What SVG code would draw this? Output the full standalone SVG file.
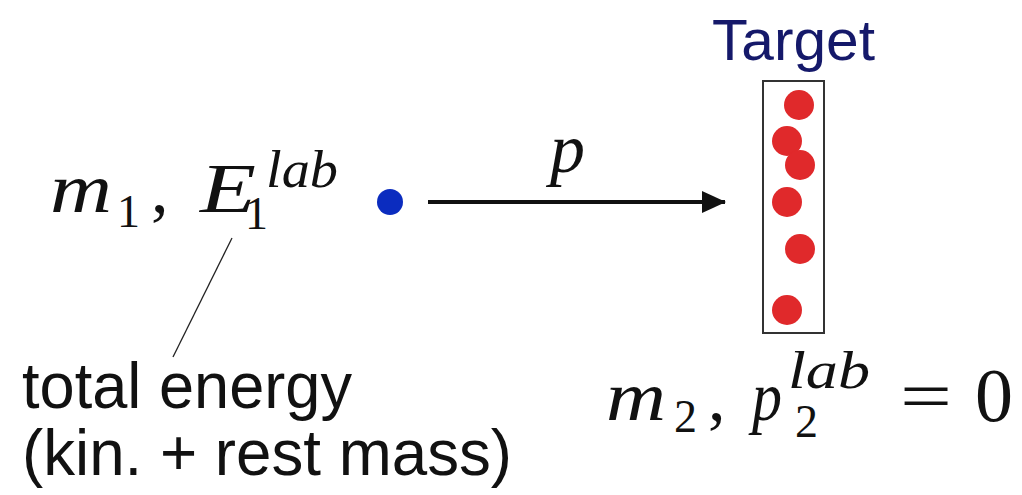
<svg xmlns="http://www.w3.org/2000/svg" width="1022" height="495" viewBox="0 0 1022 495">
  <style>
    .mi { font-family: "Liberation Serif", "Times New Roman", serif; font-style: italic; fill: #111; }
    .rm { font-family: "Liberation Serif", "Times New Roman", serif; fill: #111; }
    .sans { font-family: "Liberation Sans", Arial, sans-serif; fill: #111; }
    .red { fill: #e0292b; }
  </style>
  <defs>
    <marker id="arrowhead" markerWidth="24" markerHeight="22" refX="23" refY="11" orient="auto" markerUnits="userSpaceOnUse">
      <path d="M0,0 L24,11 L0,22 Z" fill="#111"/>
    </marker>
  </defs>
  <rect width="1022" height="495" fill="#ffffff"/>

  <g id="projectile">
    <circle cx="390" cy="202" r="13" fill="#0b2cbf"/>
  </g>

  <g id="projectile-label">
    <text class="mi" x="50" y="212" font-size="70" textLength="62" lengthAdjust="spacingAndGlyphs">m</text>
    <text class="rm" x="117" y="227" font-size="46">1</text>
    <text class="rm" x="151" y="212" font-size="70">,</text>
    <text class="mi" x="200" y="212" font-size="70" textLength="56" lengthAdjust="spacingAndGlyphs">E</text>
    <text class="rm" x="245" y="229" font-size="46">1</text>
    <text class="mi" x="266" y="187" font-size="52" textLength="72" lengthAdjust="spacingAndGlyphs">lab</text>
  </g>

  <g id="energy-note">
    <text class="sans" x="22" y="408" font-size="64" textLength="330" lengthAdjust="spacingAndGlyphs">total energy</text>
    <text class="sans" x="22" y="475" font-size="64" textLength="490" lengthAdjust="spacingAndGlyphs">(kin. + rest mass)</text>
  </g>

  <g id="target">
    <text x="712" y="60" font-family="Liberation Sans, Arial, sans-serif" font-size="58" fill="#15196a" textLength="163" lengthAdjust="spacingAndGlyphs">Target</text>
    <rect x="763" y="81" width="61" height="252" fill="none" stroke="#333" stroke-width="2"/>
    <circle class="red" cx="799" cy="105" r="15"/>
    <circle class="red" cx="787" cy="141" r="15"/>
    <circle class="red" cx="800" cy="165" r="15"/>
    <circle class="red" cx="787" cy="202" r="15"/>
    <circle class="red" cx="800" cy="249" r="15"/>
    <circle class="red" cx="787" cy="310" r="15"/>
  </g>

  <g id="target-label">
    <text class="mi" x="606" y="420" font-size="70" textLength="60" lengthAdjust="spacingAndGlyphs">m</text>
    <text class="rm" x="674" y="432" font-size="46">2</text>
    <text class="rm" x="708" y="420" font-size="70">,</text>
    <text class="mi" x="752" y="420" font-size="70" textLength="30" lengthAdjust="spacingAndGlyphs">p</text>
    <text class="mi" x="788" y="388" font-size="52" textLength="82" lengthAdjust="spacingAndGlyphs">lab</text>
    <text class="rm" x="795" y="437" font-size="46">2</text>
    <text class="rm" x="900" y="420" font-size="70" textLength="52" lengthAdjust="spacingAndGlyphs">=</text>
    <text class="rm" x="975" y="421" font-size="76">0</text>
  </g>

  <g id="connectors">
    <line x1="428" y1="202" x2="725" y2="202" stroke="#111" stroke-width="4" marker-end="url(#arrowhead)"/>
    <text class="mi" x="550" y="172" font-size="70">p</text>
    <line x1="232" y1="238" x2="173" y2="357" stroke="#222" stroke-width="1.3"/>
  </g>
</svg>
